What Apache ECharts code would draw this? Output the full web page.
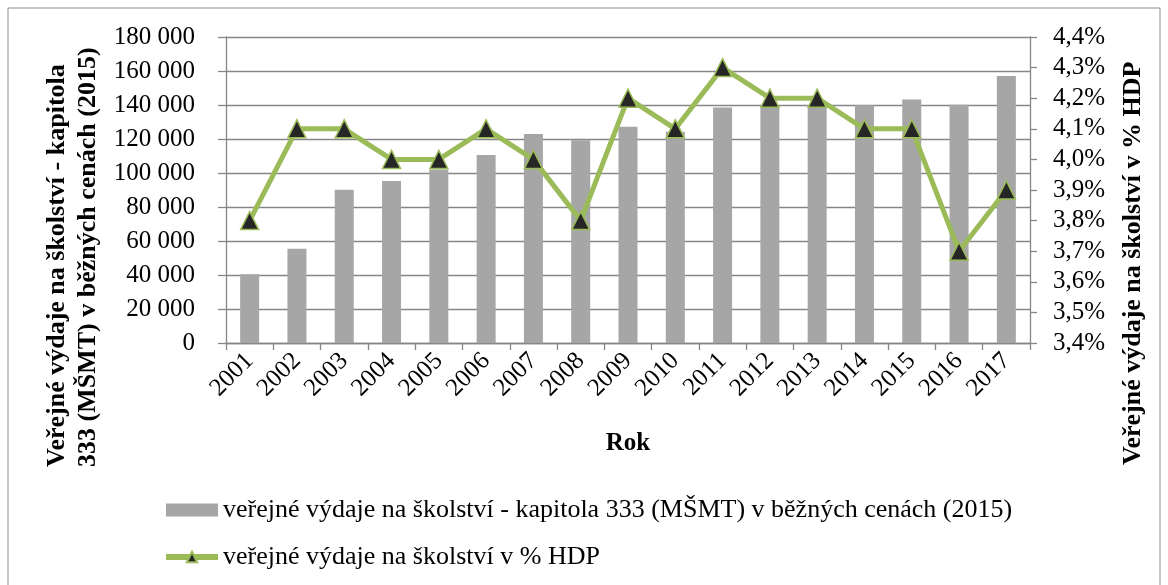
<!DOCTYPE html>
<html>
<head>
<meta charset="utf-8">
<script src="https://cdn.jsdelivr.net/npm/echarts@6/dist/echarts.min.js"></script>
<style>
  html, body { margin: 0; padding: 0; background: #fff; }
  #chart { width: 1168px; height: 585px; }
</style>
</head>
<body>
<div id="chart"></div>
<script>
// Roky (osa X)
const years = ["2001", "2002", "2003", "2004", "2005", "2006", "2007", "2008", "2009",
  "2010", "2011", "2012", "2013", "2014", "2015", "2016", "2017"];
// Výdaje kapitola 333 (MŠMT)
const spending = [40500, 55500, 90200, 95300, 102000, 110600, 122900, 119300, 127200,
  124200, 138600, 140000, 140000, 139800, 143300, 140200, 157100];
// Výdaje v % HDP
const hdpShare = [3.8, 4.1, 4.1, 4.0, 4.0, 4.1, 4.0, 3.8, 4.2, 4.1, 4.3, 4.2, 4.2, 4.1, 4.1, 3.7, 3.9];

const barName = "veřejné výdaje na školství - kapitola 333 (MŠMT) v běžných cenách (2015)";
const lineName = "veřejné výdaje na školství v % HDP";
const leftTitle = "Veřejné výdaje na školství - kapitola\n333 (MŠMT) v běžných cenách (2015)";
const rightTitle = "Veřejné výdaje na školství v % HDP";

const font = "Liberation Serif";
const axisGray = "#868686";

const chart = echarts.init(document.getElementById("chart"));

const option = {
  textStyle: { fontFamily: font },
  animation: false,
  graphic: [
    {
      type: "rect",
      shape: { x: 8, y: 8, width: 1152, height: 600 },
      style: { fill: "none", stroke: "#8c8c8c", lineWidth: 1 },
      silent: true
    },
    // Názvy os (otočené)
    {
      type: "text",
      x: 73, y: 467,
      rotation: Math.PI / 2,
      style: {
        text: leftTitle, fontFamily: font, fontSize: 26, fontWeight: "bold", fill: "#000",
        align: "left", verticalAlign: "middle", lineHeight: 31
      }
    },
    {
      type: "text",
      x: 1133, y: 465,
      rotation: Math.PI / 2,
      style: {
        text: rightTitle, fontFamily: font, fontSize: 26, fontWeight: "bold", fill: "#000",
        align: "left", verticalAlign: "middle"
      }
    }
  ],
  grid: { left: 226, right: 138, top: 37, bottom: 242 },
  legend: {
    orient: "vertical",
    left: 158,
    top: 492,
    itemGap: 21,
    itemWidth: 52,
    itemHeight: 13,
    textStyle: { fontFamily: font, fontSize: 26, color: "#000" },
    data: [
      { name: barName, icon: "rect" },
      { name: lineName, lineStyle: { width: 6 } }
    ]
  },
  xAxis: {
    type: "category",
    data: years,
    name: "Rok",
    nameLocation: "middle",
    nameGap: 88,
    nameTextStyle: { fontFamily: font, fontSize: 25, fontWeight: "bold", color: "#000" },
    axisLine: { lineStyle: { color: axisGray, width: 1.3 } },
    axisTick: { show: true, length: 7, lineStyle: { color: axisGray, width: 1.3 } },
    axisLabel: { rotate: 45, fontFamily: font, fontSize: 25, color: "#000", margin: 14 }
  },
  yAxis: [
    {
      type: "value",
      min: 0,
      max: 180000,
      interval: 20000,
      axisLine: { show: true, lineStyle: { color: axisGray, width: 1.3 } },
      axisTick: { show: true, length: 8, lineStyle: { color: axisGray, width: 1.3 } },
      splitLine: { lineStyle: { color: axisGray, width: 1.3 } },
      axisLabel: {
        fontFamily: font, fontSize: 25, color: "#000", margin: 31,
        formatter: (v) => String(v).replace(/\B(?=(\d{3})+(?!\d))/g, " ")
      }
    },
    {
      type: "value",
      min: 3.4,
      max: 4.4,
      interval: 0.1,
      axisLine: { show: true, lineStyle: { color: axisGray, width: 1.3 } },
      axisTick: { show: true, length: 7, lineStyle: { color: axisGray, width: 1.3 } },
      splitLine: { show: false },
      axisLabel: {
        fontFamily: font, fontSize: 25, color: "#000", margin: 23,
        formatter: (v) => v.toFixed(1).replace(".", ",") + "%"
      }
    }
  ],
  series: [
    {
      name: barName,
      type: "bar",
      data: spending,
      barWidth: 19,
      itemStyle: { color: "#a6a6a6" }
    },
    {
      name: lineName,
      type: "line",
      yAxisIndex: 1,
      data: hdpShare,
      symbol: "triangle",
      symbolSize: 18,
      lineStyle: { color: "#9bbb59", width: 5 },
      itemStyle: { color: "#262626", borderColor: "#9bbb59", borderWidth: 1.5 }
    }
  ]
};

chart.setOption(option);
</script>
</body>
</html>
